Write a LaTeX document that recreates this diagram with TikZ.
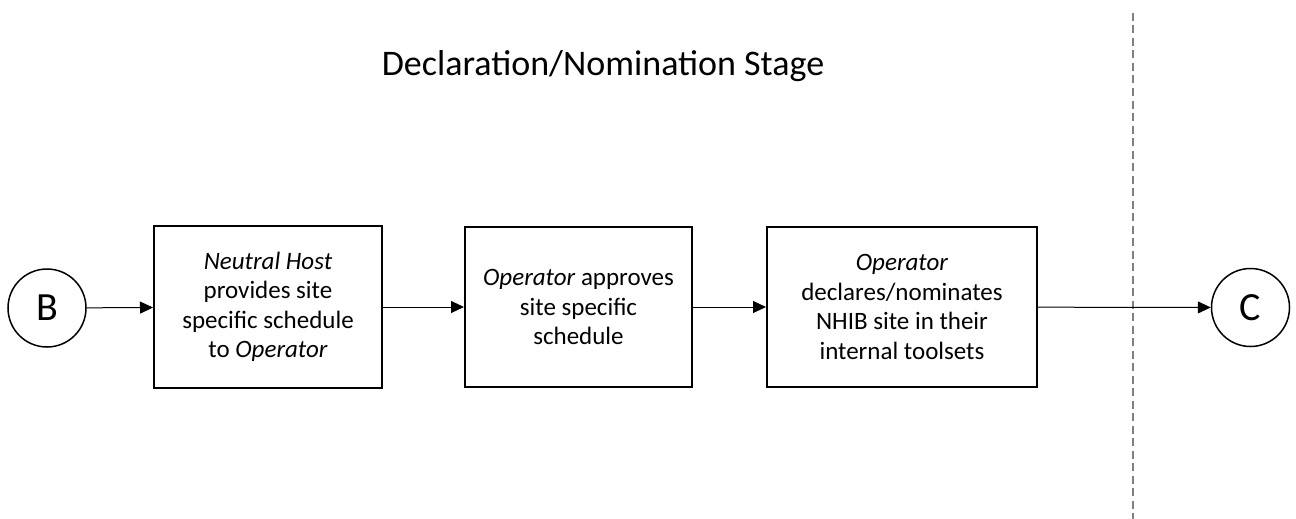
\documentclass[tikz,border=0pt]{standalone}
\usepackage{fontspec}
\setmainfont{Carlito}
\usetikzlibrary{arrows.meta}
\begin{document}
\begin{tikzpicture}[x=1pt,y=-1pt,
  stepbox/.style={draw=black,line width=2pt,inner sep=0pt,align=center,
    font=\fontsize{25}{29.5}\selectfont},
  conn/.style={draw=black,line width=1pt,-{Triangle[length=13pt,width=12pt]}},
  term/.style={circle,draw=black,line width=1.5pt,minimum size=78pt,inner sep=0pt,
    font=\fontsize{40}{46}\selectfont}]
\fill[white] (0,0) rectangle (1296,519);
\useasboundingbox (0,0) rectangle (1296,519);
\node[anchor=base,font=\fontsize{36}{42}\selectfont] (title) at (603,75) {Declaration/Nomination Stage};
\draw[draw={rgb,255:red,128;green,128;blue,128},line width=1.3pt,dash pattern=on 8pt off 4.5pt] (1133,13) coordinate (dtop) -- (1133,519) coordinate (dbot);
\node[term] (B) at (47,308) {B};
\node[term] (C) at (1250.5,307.5) {C};
\node[stepbox,minimum width=228pt,minimum height=162pt] (s1) at (268,307)
  {\textit{Neutral Host}\\provides site\\specific schedule\\to \textit{Operator}};
\node[stepbox,minimum width=227pt,minimum height=160pt] (s2) at (578.5,307)
  {\textit{Operator} approves\\site specific\\schedule};
\node[stepbox,minimum width=270pt,minimum height=160pt] (s3) at (902,307)
  {\textit{Operator}\\declares/nominates\\NHIB site in their\\internal toolsets};
\draw[conn] (B) -- (s1);
\draw[conn] (s1) -- (s2);
\draw[conn] (s2) -- (s3);
\draw[conn] (s3) -- (C);
\end{tikzpicture}
\end{document}
